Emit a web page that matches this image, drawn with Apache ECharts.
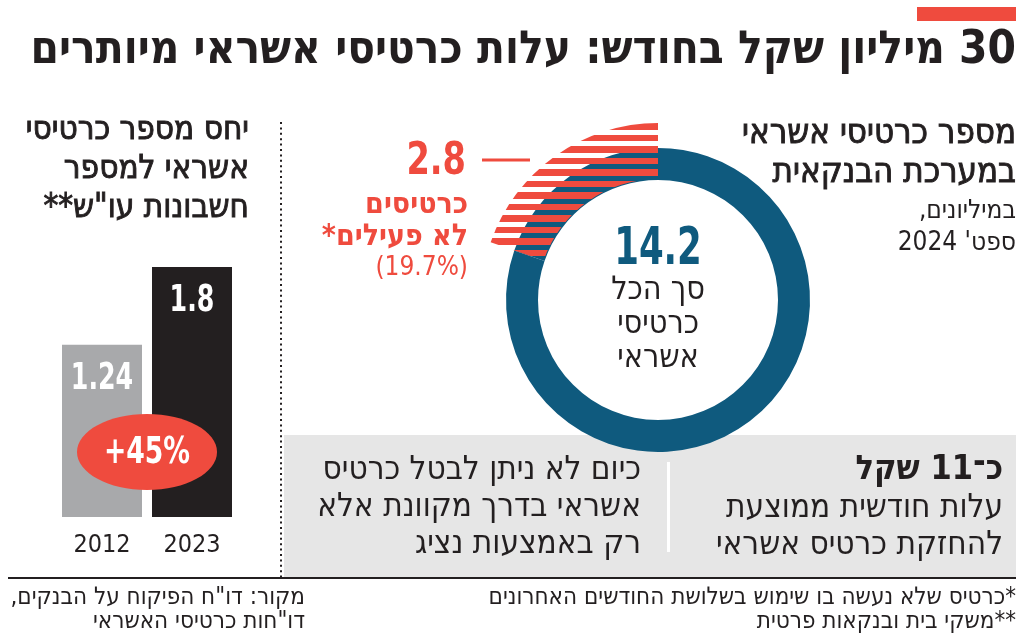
<!DOCTYPE html>
<html lang="he">
<head>
<meta charset="utf-8">
<script src="https://cdn.jsdelivr.net/npm/echarts@6/dist/echarts.min.js"></script>
<style>
html,body{margin:0;padding:0;background:#fff;}
#c{position:absolute;left:0;top:0;width:1024px;height:638px;}
</style>
</head>
<body>
<div id="c" dir="rtl"></div>
<script>
// ---- data ----
const years = ['2012', '2023'];
const cardsPerAccount = [1.24, 1.8];
const growthLabel = '+45%';
const totalCards = 14.2;          // millions
const inactiveCards = 2.8;        // millions
const inactiveShare = '19.7%';

const titleText = '30 מיליון שקל בחודש: עלות כרטיסי אשראי מיותרים';
const donutTitle = ['מספר כרטיסי אשראי', 'במערכת הבנקאית'];
const donutSub = ['במיליונים,', 'ספט\' 2024'];
const donutCenter = ['סך הכל', 'כרטיסי', 'אשראי'];
const inactiveText = ['כרטיסים', 'לא פעילים*'];
const barTitle = ['יחס מספר כרטיסי', 'אשראי למספר', 'חשבונות עו"ש**'];
const boxRight = ['כ־11 שקל', 'עלות חודשית ממוצעת', 'להחזקת כרטיס אשראי'];
const boxLeft = ['כיום לא ניתן לבטל כרטיס', 'אשראי בדרך מקוונת אלא', 'רק באמצעות נציג'];
const notes = ['*כרטיס שלא נעשה בו שימוש בשלושת החודשים האחרונים', '**משקי בית ובנקאות פרטית'];
const source = ['מקור: דו"ח הפיקוח על הבנקים,', 'דו"חות כרטיסי האשראי'];

// ---- style ----
const F = "'DejaVu Sans Condensed', 'Liberation Sans Narrow', 'Liberation Sans', sans-serif";
const RED = '#ef4b3e', BLUE = '#0f5a7e', DARK = '#231f20', GREYBAR = '#a8a9ab', BOX = '#e6e6e6';

// striped pattern for inactive slice
const pc = document.createElement('canvas');
pc.width = 8; pc.height = 23;
const pctx = pc.getContext('2d');
pctx.fillStyle = RED;
pctx.fillRect(0, 8, 8, 7);
pctx.fillRect(0, 20, 8, 3);
pctx.fillRect(0, 0, 8, 3);

function txt(text, x, y, size, weight, color, align, sx, strokeW) {
  const style = {
    text: text, x: 0, y: 0, fill: color || DARK,
    font: (weight || 'normal') + ' ' + size + 'px ' + F,
    textAlign: align || 'right', textVerticalAlign: 'middle'
  };
  if (strokeW) { style.stroke = color || DARK; style.lineWidth = strokeW; }
  return { type: 'text', z: 20, silent: true, x: x, y: y, scaleX: sx || 1, style: style };
}
function lines(arr, x, y0, dy, size, weight, color, align, sx, strokeW) {
  return arr.map((t, i) => txt(t, x, y0 + i * dy, size, weight, color, align, sx, strokeW));
}

const chart = echarts.init(document.getElementById('c'), null, { renderer: 'canvas' });
chart.setOption({
  animation: false,
  backgroundColor: '#fff',
  grid: { left: 57, width: 180, top: 267, height: 250, containLabel: false },
  xAxis: {
    type: 'category', data: years,
    axisLine: { show: false }, axisTick: { show: false },
    axisLabel: { margin: 16, fontSize: 25, color: DARK, fontFamily: F }
  },
  yAxis: { type: 'value', min: 0, max: 1.8, show: false, splitLine: { show: false } },
  series: [
    {
      type: 'bar', barWidth: 80, z: 2, silent: true,
      data: cardsPerAccount.map((v, i) => ({ value: v, itemStyle: { color: i === 0 ? GREYBAR : DARK } })),
      label: { show: false }
    },
    {
      type: 'pie', z: 2, silent: true, center: [658, 300], radius: [120, 152],
      startAngle: 90, clockwise: false, label: { show: false }, labelLine: { show: false },
      itemStyle: { borderWidth: 0, color: BLUE },
      data: [{ value: inactiveCards }, { value: +(totalCards - inactiveCards).toFixed(1) }]
    },
    {
      type: 'pie', z: 3, silent: true, center: [658, 300], radius: [121, 177],
      startAngle: 90, clockwise: false, label: { show: false }, labelLine: { show: false },
      itemStyle: { borderWidth: 0 },
      data: [
        { value: inactiveCards, itemStyle: { color: { image: pc, repeat: 'repeat' } } },
        { value: +(totalCards - inactiveCards).toFixed(1), itemStyle: { color: 'rgba(0,0,0,0)' } }
      ]
    }
  ]
});

// bar value labels placed through the chart's own scales
const barLabels = cardsPerAccount.map((v, i) => {
  const p = chart.convertToPixel({ seriesIndex: 0 }, [i, v]);
  return txt(String(v), p[0], p[1] + 34, 38, 'bold', '#fff', 'center', 0.74);
});

const graphics = [
  { type: 'rect', z: 0, silent: true, shape: { x: 917, y: 7, width: 99, height: 14 }, style: { fill: RED } },
  { type: 'rect', z: 0, silent: true, shape: { x: 284, y: 435, width: 732, height: 143 }, style: { fill: BOX } },
  { type: 'rect', z: 1, silent: true, shape: { x: 667, y: 462, width: 3, height: 90 }, style: { fill: '#fff' } },
  { type: 'line', z: 1, silent: true, shape: { x1: 8, y1: 578, x2: 1016, y2: 578 }, style: { stroke: DARK, lineWidth: 2 } },
  { type: 'line', z: 1, silent: true, shape: { x1: 281, y1: 122, x2: 281, y2: 577 }, style: { stroke: DARK, lineWidth: 2, lineDash: [2, 3.4] } },
  { type: 'line', z: 5, silent: true, shape: { x1: 482, y1: 160, x2: 530, y2: 160 }, style: { stroke: RED, lineWidth: 3 } },
  { type: 'ellipse', z: 5, silent: true, shape: { cx: 147, cy: 452, rx: 70, ry: 38 }, style: { fill: RED } },
  ...barLabels,
  txt('\u202A' + growthLabel + '\u202C', 147, 453, 38, 'bold', '#fff', 'center', 0.78),
  txt(titleText, 1016, 51, 45.5, 'bold', DARK),
  ...lines(donutTitle, 1016, 134, 39, 34.5, 'normal', DARK, 'right', 1, 0.9),
  ...lines(donutSub, 1016, 211, 32, 26, 'normal', DARK),
  txt(String(totalCards), 658, 250, 52, 'bold', BLUE, 'center', 0.76),
  ...lines(donutCenter, 658, 291, 34, 32, 'normal', DARK, 'center'),
  txt(String(inactiveCards), 466, 163, 44, 'bold', RED, 'right', 0.85),
  ...lines(inactiveText, 468, 205, 32, 30, 'bold', RED),
  txt('(' + inactiveShare + ')', 468, 268, 26, 'normal', RED),
  ...lines(barTitle, 249, 130, 39, 33, 'normal', DARK, 'right', 1, 0.9),
  txt(boxRight[0], 1003, 470, 34, 'bold', DARK),
  ...lines(boxRight.slice(1), 1003, 508, 37, 33, 'normal', DARK),
  ...lines(boxLeft, 641, 470, 37, 33, 'normal', DARK),
  ...lines(notes, 1016, 598, 24, 24, 'normal', DARK),
  ...lines(source, 305, 598, 24, 24, 'normal', DARK)
];
chart.setOption({ graphic: graphics });
</script>
</body>
</html>
